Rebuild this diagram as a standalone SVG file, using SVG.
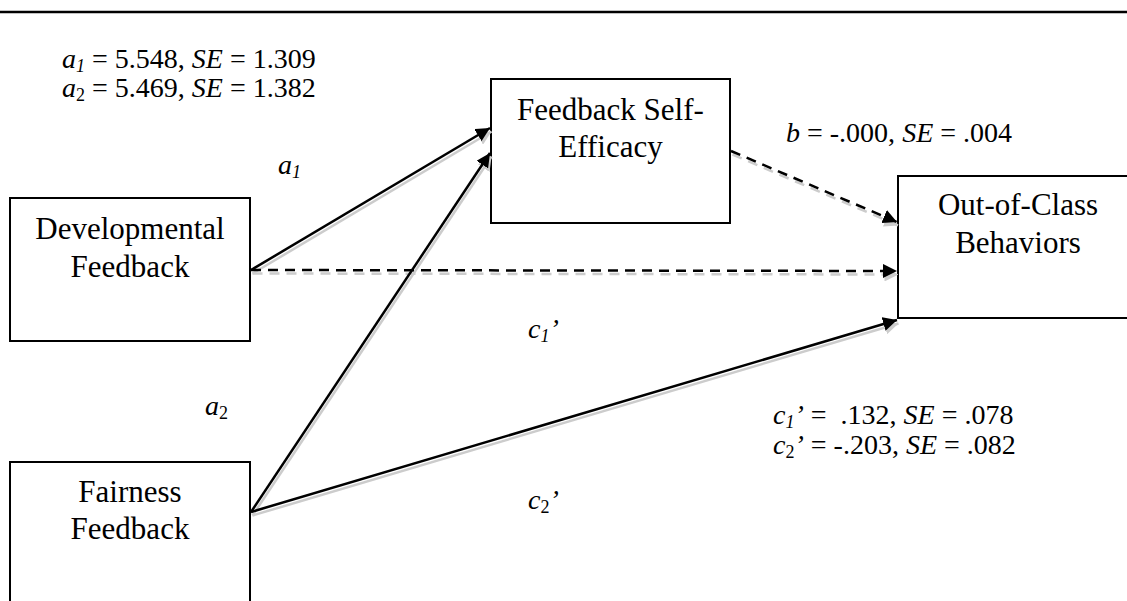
<svg xmlns="http://www.w3.org/2000/svg" width="1127" height="601" viewBox="0 0 1127 601">
<style>
.bg{fill:#fff}
.box{fill:#fff;stroke:#000;stroke-width:2}
.t{font-family:"Liberation Serif","Times New Roman",serif;fill:#000;white-space:pre}
.bt{font-size:31px;text-anchor:middle}
.st{font-size:28px}
.i{font-style:italic}
.sub{font-size:18px}
.ln{stroke:#000;stroke-width:2.5;fill:none}
.sh{stroke:#cccccc;stroke-width:2.5;fill:none}
.d{stroke-dasharray:10 7}
</style>
<defs>
<marker id="ah" viewBox="0 0 14 14" markerWidth="14" markerHeight="14" refX="14" refY="7" orient="auto" markerUnits="userSpaceOnUse"><path d="M0,0 L14,7 L0,14 z" fill="#000"/></marker>
<marker id="ahs" viewBox="0 0 14 14" markerWidth="14" markerHeight="14" refX="14" refY="7" orient="auto" markerUnits="userSpaceOnUse"><path d="M0,0 L14,7 L0,14 z" fill="#cccccc"/></marker>
</defs>
<rect class="bg" x="0" y="0" width="1127" height="601"/>
<line x1="0" y1="12" x2="1127" y2="12" stroke="#000" stroke-width="2.5"/>

<g id="node-developmental">
<rect class="box" x="10" y="198" width="240" height="143"/>
<text class="t bt" x="130" y="239">Developmental</text>
<text class="t bt" x="130" y="277">Feedback</text>
</g>
<g id="node-fairness">
<rect class="box" x="10" y="462" width="240" height="170"/>
<text class="t bt" x="130" y="502">Fairness</text>
<text class="t bt" x="130" y="539">Feedback</text>
</g>
<g id="node-selfefficacy">
<rect class="box" x="491" y="79" width="239" height="144"/>
<text class="t bt" x="610.5" y="120">Feedback Self-</text>
<text class="t bt" x="610.5" y="157">Efficacy</text>
</g>
<g id="node-outofclass">
<rect class="box" x="898" y="176" width="240" height="142"/>
<text class="t bt" x="1018" y="215">Out-of-Class</text>
<text class="t bt" x="1018" y="253">Behaviors</text>
</g>

<g id="connectors">
<g transform="translate(1.5,3.5)">
<line class="sh" x1="251" y1="270" x2="490" y2="128" marker-end="url(#ahs)"/>
<line class="sh" x1="251" y1="512" x2="490" y2="153" marker-end="url(#ahs)"/>
<line class="sh d" x1="731" y1="151" x2="897" y2="222" marker-end="url(#ahs)"/>
<line class="sh d" x1="251" y1="270" x2="897" y2="271" marker-end="url(#ahs)"/>
<line class="sh" x1="251" y1="512" x2="897" y2="320" marker-end="url(#ahs)"/>
</g>
<line class="ln" x1="251" y1="270" x2="490" y2="128" marker-end="url(#ah)"/>
<line class="ln" x1="251" y1="512" x2="490" y2="153" marker-end="url(#ah)"/>
<line class="ln d" x1="731" y1="151" x2="897" y2="222" marker-end="url(#ah)"/>
<line class="ln d" x1="251" y1="270" x2="897" y2="271" marker-end="url(#ah)"/>
<line class="ln" x1="251" y1="512" x2="897" y2="320" marker-end="url(#ah)"/>
</g>

<g id="labels">
<text class="t st" x="62" y="68"><tspan class="i">a</tspan><tspan class="i sub" dy="4">1</tspan><tspan dy="-4"> = 5.548, </tspan><tspan class="i">SE</tspan> = 1.309</text>
<text class="t st" x="62" y="97"><tspan class="i">a</tspan><tspan class="sub" dy="4">2</tspan><tspan dy="-4"> = 5.469, </tspan><tspan class="i">SE</tspan> = 1.382</text>
<text class="t st" x="786" y="142"><tspan class="i">b</tspan> = -.000, <tspan class="i">SE</tspan> = .004</text>
<text class="t st i" x="278" y="174">a<tspan class="sub" dy="4">1</tspan></text>
<text class="t st i" x="528" y="338">c<tspan class="sub" dy="4">1</tspan><tspan dy="-4">’</tspan></text>
<text class="t st i" x="205" y="415">a<tspan class="sub" dy="4" font-style="normal">2</tspan></text>
<text class="t st" x="773" y="424"><tspan class="i">c</tspan><tspan class="i sub" dy="4">1</tspan><tspan class="i" dy="-4">’</tspan> =  .132, <tspan class="i">SE</tspan> = .078</text>
<text class="t st" x="773" y="454"><tspan class="i">c</tspan><tspan class="sub" dy="4">2</tspan><tspan class="i" dy="-4">’</tspan> = -.203, <tspan class="i">SE</tspan> = .082</text>
<text class="t st i" x="528" y="509">c<tspan class="sub" dy="4" font-style="normal">2</tspan><tspan dy="-4">’</tspan></text>
</g>
</svg>
